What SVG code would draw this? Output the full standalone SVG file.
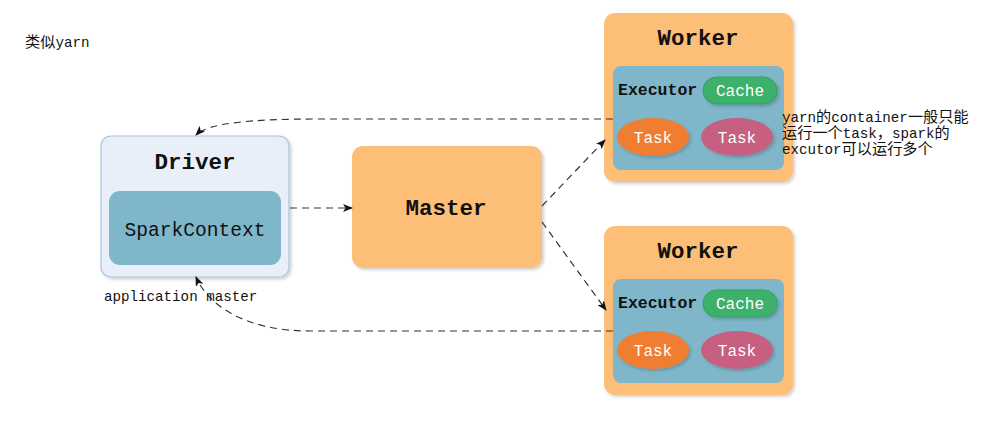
<svg xmlns="http://www.w3.org/2000/svg" width="984" height="444" viewBox="0 0 984 444">
<defs>
<style>
text{font-family:"Liberation Mono","Noto Sans CJK SC",monospace;fill:#111}
.note{font-size:14.2px}
.cjk{font-size:15.2px;font-family:"Noto Sans CJK SC",sans-serif}
.title{font-size:22.5px;font-weight:bold;text-anchor:middle}
.orange{fill:#fdbf78}
.blue{fill:#7fb6ca}
.conn{fill:none;stroke:#333;stroke-width:1.2;stroke-dasharray:7 5}
.wt{fill:#fff;text-anchor:middle;font-size:16px}
</style>
<filter id="sh" x="-10%" y="-10%" width="125%" height="125%">
<feDropShadow dx="2" dy="2" stdDeviation="1.5" flood-color="#000" flood-opacity="0.18"/>
</filter>
<marker id="arr" markerWidth="10" markerHeight="8" refX="9" refY="4" orient="auto" markerUnits="userSpaceOnUse">
<path d="M0,0 L10,4 L0,8 L2.5,4 z" fill="#111"/>
</marker>
</defs>
<rect width="984" height="444" fill="#fff"/>

<text class="note" x="25" y="47"><tspan class="cjk">类似</tspan>yarn</text>

<g id="driver">
<rect x="101" y="136" width="188" height="141" rx="10" fill="#e9eff8" stroke="#a9c3de" stroke-width="1.2" filter="url(#sh)"/>
<text class="title" x="195" y="169">Driver</text>
<rect x="109" y="191" width="172" height="74" rx="11" class="blue"/>
<text x="195" y="236" text-anchor="middle" font-size="19.6">SparkContext</text>
</g>

<g id="master">
<rect x="352" y="146" width="190" height="122" rx="11" class="orange" filter="url(#sh)"/>
<text class="title" x="446" y="215">Master</text>
</g>

<g id="worker1">
<rect x="604" y="13" width="189" height="169" rx="11" class="orange" filter="url(#sh)"/>
<text class="title" x="698" y="45">Worker</text>
<rect x="613" y="66" width="171" height="104" rx="8" class="blue"/>
<text x="618" y="95" font-size="16.5" font-weight="bold" fill="#1a2a3a">Executor</text>
<rect x="703" y="77" width="74" height="27" rx="13.5" fill="#3cb06c" stroke="#33a062" filter="url(#sh)"/>
<text class="wt" x="740" y="95.5">Cache</text>
<ellipse cx="653" cy="137" rx="36" ry="19" fill="#f07e30" filter="url(#sh)"/>
<text class="wt" x="653" y="143" font-size="16.5">Task</text>
<ellipse cx="737" cy="137" rx="36" ry="19" fill="#c75f80" filter="url(#sh)"/>
<text class="wt" x="737" y="143" font-size="16.5">Task</text>
</g>

<g id="worker2">
<rect x="604" y="226" width="189" height="169" rx="11" class="orange" filter="url(#sh)"/>
<text class="title" x="698" y="258">Worker</text>
<rect x="613" y="279" width="171" height="104" rx="8" class="blue"/>
<text x="618" y="308" font-size="16.5" font-weight="bold" fill="#1a2a3a">Executor</text>
<rect x="703" y="290" width="74" height="27" rx="13.5" fill="#3cb06c" stroke="#33a062" filter="url(#sh)"/>
<text class="wt" x="740" y="308.5">Cache</text>
<ellipse cx="653" cy="350" rx="36" ry="19" fill="#f07e30" filter="url(#sh)"/>
<text class="wt" x="653" y="356" font-size="16.5">Task</text>
<ellipse cx="737" cy="350" rx="36" ry="19" fill="#c75f80" filter="url(#sh)"/>
<text class="wt" x="737" y="356" font-size="16.5">Task</text>
</g>

<g id="connectors">
<path class="conn" d="M290,208 L352,208" marker-end="url(#arr)"/>
<path class="conn" d="M542,206 L605,140" marker-end="url(#arr)"/>
<path class="conn" d="M542,222 L606,310" marker-end="url(#arr)"/>
<path class="conn" d="M613,119 L320,119 C250,119 208,123 196,135" marker-end="url(#arr)"/>
<path class="conn" d="M613,331 L310,331 C245,331 208,305 196,277" marker-end="url(#arr)"/>
</g>

<text class="note" x="104" y="301">application master</text>
<text class="note" x="782" y="122">yarn<tspan class="cjk">的</tspan>container<tspan class="cjk">一般只能</tspan></text>
<text class="note" x="782" y="138"><tspan class="cjk">运行一个</tspan>task<tspan class="cjk">，</tspan>spark<tspan class="cjk">的</tspan></text>
<text class="note" x="782" y="154">excutor<tspan class="cjk">可以运行多个</tspan></text>
</svg>
